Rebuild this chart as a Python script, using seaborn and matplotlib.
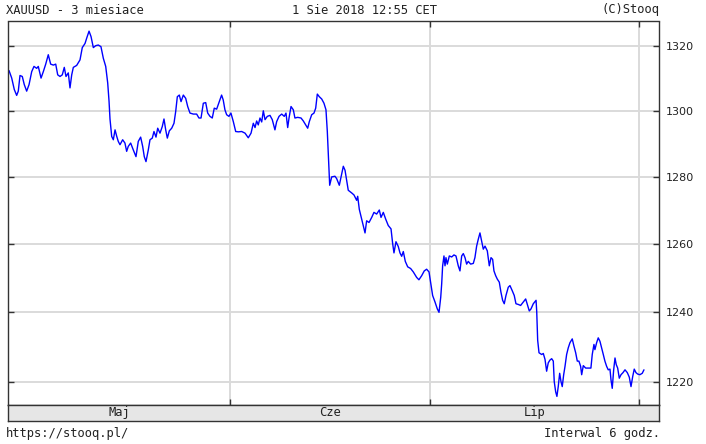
import numpy as np
import matplotlib
matplotlib.use('Agg')
from matplotlib import pyplot as plt
from matplotlib.ticker import FixedLocator, NullLocator, NullFormatter
import seaborn as sns

# XAUUSD, 6h bars; x = trading days counted from the first bar
day = [0.05, 0.33, 0.60, 0.85, 1.02, 1.20, 1.44, 1.65, 1.90, 2.15, 2.43, 2.67, 2.95, 3.12,
       3.41, 3.65, 3.90, 4.17, 4.42, 4.70, 4.95, 5.16, 5.40, 5.64, 5.85, 6.03, 6.27, 6.45,
       6.63, 6.80, 7.15, 7.50, 7.74, 8.03, 8.20, 8.45, 8.66, 8.90, 9.15, 9.42, 9.70, 9.95,
       10.20, 10.41, 10.55, 10.65, 10.83, 11.00, 11.18, 11.36, 11.52, 11.70, 11.98, 12.22,
       12.40, 12.57, 12.82, 13.10, 13.38, 13.62, 13.87, 14.08, 14.25, 14.43, 14.67, 14.85,
       15.09, 15.27, 15.48, 15.66, 15.90, 16.14, 16.32, 16.50, 16.67, 16.88, 17.13, 17.37,
       17.55, 17.72, 17.93, 18.11, 18.35, 18.60, 18.81, 19.05, 19.40, 19.75, 19.99, 20.21,
       20.45, 20.70, 20.91, 21.15, 21.39, 21.60, 21.85, 22.13, 22.37, 22.54, 22.72, 22.90,
       23.14, 23.35, 23.60, 23.85, 24.12, 24.48, 24.83, 25.17, 25.46, 25.70, 25.88, 26.05,
       26.22, 26.40, 26.58, 26.75, 26.93, 27.17, 27.45, 27.69, 27.97, 28.15, 28.40, 28.68,
       28.95, 29.13, 29.31, 29.45, 29.66, 29.90, 30.07, 30.36, 30.71, 30.95, 31.20, 31.41,
       31.58, 31.83, 32.07, 32.25, 32.42, 32.63, 32.88, 33.12, 33.33, 33.47, 33.65, 33.72,
       33.93, 34.27, 34.45, 34.73, 34.91, 35.15, 35.33, 35.50, 35.67, 36.03, 36.27, 36.55,
       36.66, 36.83, 37.08, 37.25, 37.43, 37.60, 37.85, 38.13, 38.37, 38.65, 38.93, 39.11,
       39.35, 39.60, 39.87, 40.16, 40.33, 40.47, 40.68, 40.92, 41.10, 41.28, 41.45, 41.66,
       41.91, 42.22, 42.50, 42.85, 43.09, 43.38, 43.65, 43.90, 44.15, 44.32, 44.53, 44.78,
       45.02, 45.20, 45.38, 45.48, 45.58, 45.72, 45.83, 45.93, 46.07, 46.28, 46.53, 46.77,
       46.98, 47.22, 47.40, 47.58, 47.75, 47.93, 48.10, 48.27, 48.52, 48.80, 48.97, 49.15,
       49.32, 49.50, 49.68, 49.85, 50.03, 50.27, 50.48, 50.66, 50.83, 50.97, 51.15, 51.32,
       51.53, 51.70, 51.88, 52.05, 52.23, 52.47, 52.65, 52.89, 53.10, 53.28, 53.52, 53.77,
       54.05, 54.30, 54.51, 54.68, 54.86, 55.10, 55.39, 55.46, 55.56, 55.70, 55.98, 56.15,
       56.33, 56.50, 56.67, 56.85, 57.03, 57.20, 57.30, 57.45, 57.58, 57.72, 57.87, 58.01,
       58.14, 58.29, 58.43, 58.60, 58.77, 58.95, 59.19, 59.37, 59.55, 59.72, 59.89, 60.07,
       60.18, 60.35, 60.60, 60.87, 61.15, 61.29, 61.47, 61.57, 61.75, 61.92, 62.10, 62.28,
       62.45, 62.62, 62.80, 62.97, 63.15, 63.26, 63.39, 63.54, 63.68, 63.81, 63.96, 64.13,
       64.31, 64.52, 64.73, 64.97, 65.18, 65.36, 65.54, 65.70, 65.88, 66.05, 66.29, 66.54,
       66.72]

price = [1312.3, 1310.0, 1306.5, 1304.7, 1306.0, 1310.8, 1310.5, 1308.0, 1306.0, 1308.0,
         1312.0, 1313.6, 1313.0, 1313.6, 1310.0, 1312.0, 1314.3, 1317.2, 1314.3, 1314.0,
         1314.3, 1311.0, 1310.5, 1311.0, 1313.3, 1310.5, 1311.6, 1307.0, 1311.0, 1313.3,
         1313.9, 1315.6, 1319.4, 1320.7, 1322.3, 1324.5, 1322.8, 1319.4, 1320.0, 1320.2,
         1319.7, 1316.1, 1313.6, 1308.5, 1302.9, 1297.5, 1292.2, 1291.2, 1294.2, 1292.2,
         1290.7, 1289.7, 1291.2, 1290.2, 1287.7, 1289.2, 1290.2, 1288.1, 1286.1, 1290.7,
         1292.0, 1289.2, 1286.1, 1284.6, 1288.1, 1291.2, 1291.7, 1293.7, 1292.0, 1294.7,
         1293.2, 1295.2, 1297.5, 1294.2, 1291.7, 1293.9, 1294.7, 1296.2, 1299.8, 1304.3,
         1304.8, 1302.8, 1304.8, 1303.8, 1301.3, 1299.3, 1299.0, 1299.0, 1297.8, 1297.8,
         1302.3, 1302.5, 1299.3, 1298.3, 1297.8, 1300.8, 1300.5, 1302.8, 1304.8, 1303.3,
         1300.3, 1298.8, 1298.3, 1299.3, 1296.7, 1293.7, 1293.6, 1293.7, 1293.2, 1291.8,
         1293.2, 1296.2, 1294.9, 1296.9, 1295.7, 1297.8, 1296.6, 1300.0, 1297.3, 1298.3,
         1298.6, 1297.3, 1294.2, 1296.7, 1298.3, 1299.0, 1298.3, 1299.3, 1294.9, 1297.8,
         1301.3, 1300.3, 1297.8, 1298.0, 1297.8, 1296.9, 1295.7, 1294.7, 1296.7, 1298.8,
         1299.3, 1300.8, 1305.1, 1304.3, 1303.6, 1302.3, 1300.3, 1293.7, 1282.5, 1277.5,
         1280.0, 1280.2, 1279.5, 1277.5, 1280.0, 1283.2, 1282.0, 1279.0, 1276.0, 1275.2,
         1274.6, 1273.0, 1274.2, 1270.3, 1267.4, 1265.5, 1263.3, 1266.9, 1266.4, 1267.9,
         1269.4, 1268.9, 1270.1, 1267.9, 1269.4, 1267.4, 1265.5, 1264.5, 1260.2, 1257.4,
         1260.7, 1259.3, 1257.4, 1256.4, 1257.8, 1254.9, 1253.3, 1252.8, 1251.8, 1250.2,
         1249.5, 1250.7, 1252.1, 1252.6, 1251.8, 1248.8, 1244.9, 1243.0, 1241.0, 1240.0,
         1244.4, 1248.3, 1253.6, 1256.5, 1253.6, 1256.0, 1254.1, 1256.5, 1256.2, 1256.8,
         1256.5, 1253.6, 1252.1, 1256.5, 1257.2, 1256.0, 1254.1, 1254.9, 1254.1, 1254.3,
         1256.0, 1259.4, 1261.4, 1263.3, 1260.9, 1258.5, 1259.4, 1258.0, 1253.6, 1256.0,
         1255.5, 1252.1, 1250.7, 1249.7, 1248.8, 1245.9, 1243.5, 1242.5, 1244.9, 1247.3,
         1247.8, 1246.3, 1244.9, 1242.5, 1242.3, 1242.0, 1243.0, 1243.9, 1242.0, 1240.4,
         1241.0, 1242.5, 1243.5, 1240.2, 1231.9, 1228.3, 1227.8, 1228.1, 1226.4, 1223.0,
         1225.4, 1226.2, 1226.6, 1225.9, 1220.0, 1217.1, 1215.8, 1218.6, 1222.4, 1220.0,
         1218.6, 1222.0, 1224.4, 1227.8, 1229.7, 1231.2, 1232.3, 1230.2, 1228.3, 1225.9,
         1225.9, 1224.4, 1222.0, 1224.6, 1223.9, 1223.9, 1223.9, 1227.8, 1230.7, 1229.2,
         1231.2, 1232.6, 1231.6, 1229.7, 1227.8, 1225.9, 1224.4, 1223.4, 1223.6, 1220.5,
         1218.1, 1223.4, 1226.8, 1224.9, 1223.9, 1221.0, 1222.0, 1222.6, 1223.4, 1222.6,
         1221.3, 1218.6, 1221.5, 1223.6, 1222.6, 1222.2, 1222.0, 1222.4, 1223.4]

y_ticks = [1220, 1240, 1260, 1280, 1300, 1320]
month_starts = [23.25, 44.25, 66.25]      # 1 Cze, 1 Lip, 1 Sie
month_names = ['Maj', 'Cze', 'Lip']

x_lo, x_hi = -0.06, 68.3
y_lo, y_hi = 1213.35, 1327.5

sns.set_style('white')
plt.rcParams['font.family'] = ['DejaVu Sans']

W, H = 706, 444
fig = plt.figure(figsize=(W / 100, H / 100), dpi=100)
fig.patch.set_facecolor('white')

ax = fig.add_axes([8 / W, (H - 405) / H, 651 / W, 383.5 / H])
band = fig.add_axes([8 / W, (H - 421) / H, 651 / W, 16 / H])

sns.lineplot(x=day, y=price, ax=ax, color='#0000ff', linewidth=1.0,
             estimator=None, sort=False)

ax.set_yscale('log')
ax.set_ylim(y_lo, y_hi)
ax.set_xlim(x_lo, x_hi)
ax.yaxis.set_major_locator(FixedLocator(y_ticks))
ax.set_yticklabels([str(v) for v in y_ticks])
ax.yaxis.set_minor_locator(NullLocator())
ax.yaxis.set_minor_formatter(NullFormatter())
ax.set_xticks(month_starts)
ax.set_xticklabels([])
ax.set_xlabel('')
ax.set_ylabel('')
ax.grid(True, color='#dadada', linewidth=1.4)
ax.set_axisbelow(True)
ax.tick_params(axis='y', direction='in', left=True, right=True, labelleft=False,
               labelright=True, length=4, width=1, color='#333333', pad=5,
               labelsize=8, labelcolor='#222222')
ax.tick_params(axis='x', direction='in', top=True, bottom=True, length=4, width=1,
               color='#333333')
for s in ax.spines.values():
    s.set_color('#333333')
    s.set_linewidth(1)

band.set_facecolor('#e6e6e6')
band.set_xlim(x_lo, x_hi)
band.set_yticks([])
mids = [(a + b) / 2 for a, b in zip([x_lo] + month_starts[:-1], month_starts)]
band.set_xticks(mids)
band.set_xticklabels(month_names, family='DejaVu Sans Mono', fontsize=8.7, color='#222222')
band.tick_params(axis='x', length=0, pad=-11)
for s in band.spines.values():
    s.set_color('#333333')
    s.set_linewidth(1)

mono = dict(family='DejaVu Sans Mono', fontsize=8.7, color='#222222', va='center')
fig.text(6 / W, 1 - 10 / H, 'XAUUSD - 3 miesiace', ha='left', **mono)
fig.text(365 / W, 1 - 10 / H, '1 Sie 2018 12:55 CET', ha='center', **mono)
fig.text(660 / W, 1 - 10 / H, '(C)Stooq', ha='right', **mono)
fig.text(6 / W, 1 - 433 / H, 'https://stooq.pl/', ha='left', **mono)
fig.text(660 / W, 1 - 433 / H, 'Interwal 6 godz.', ha='right', **mono)

fig.savefig('out.png', dpi=100)
